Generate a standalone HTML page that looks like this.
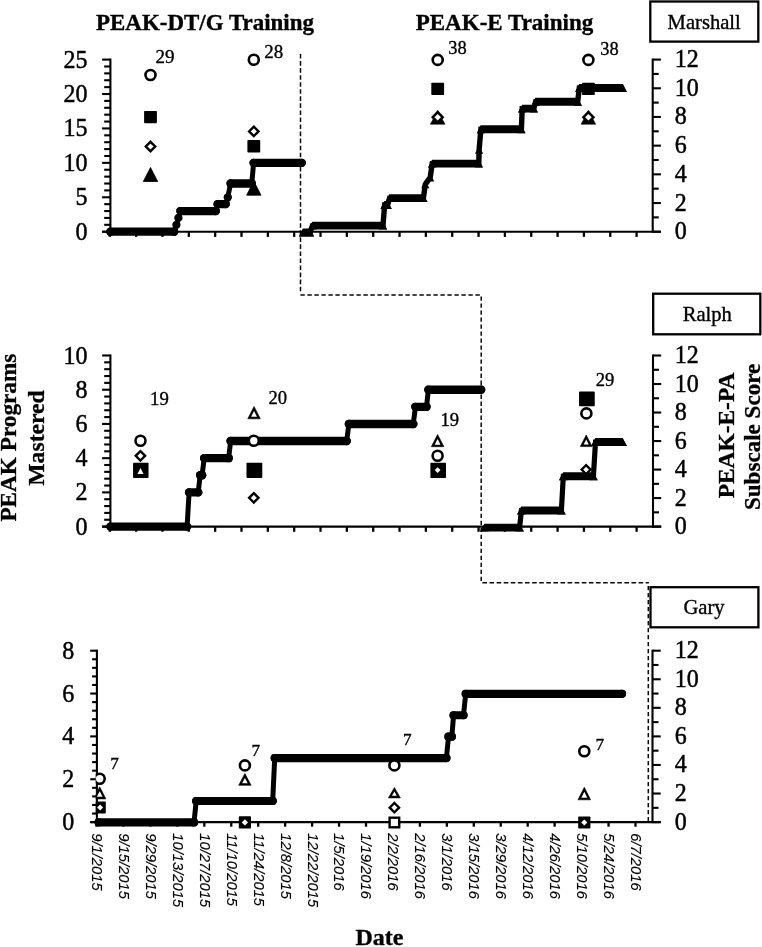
<!DOCTYPE html>
<html lang="en">
<head>
<meta charset="utf-8">
<title>PEAK training figure</title>
<style>html,body{margin:0;padding:0;background:#fff}svg{display:block}</style>
</head>
<body>
<svg width="762" height="947" viewBox="0 0 762 947">
<rect width="762" height="947" fill="#fff"/>
<text x="96.00" y="30.00" font-family='"Liberation Serif", "Times New Roman", serif' font-size="23.2" font-weight="bold" text-anchor="start" fill="#000" stroke="#000" stroke-width="0.35" textLength="218" lengthAdjust="spacingAndGlyphs">PEAK-DT/G Training</text>
<text x="415.70" y="29.80" font-family='"Liberation Serif", "Times New Roman", serif' font-size="23.2" font-weight="bold" text-anchor="start" fill="#000" stroke="#000" stroke-width="0.35" textLength="177.6" lengthAdjust="spacingAndGlyphs">PEAK-E Training</text>
<text x="379.40" y="944.90" font-family='"Liberation Serif", "Times New Roman", serif' font-size="24" font-weight="bold" text-anchor="middle" fill="#000" stroke="#000" stroke-width="0.35" >Date</text>
<text transform="translate(15.80,437.60) rotate(-90)" font-family='"Liberation Serif", "Times New Roman", serif' font-size="23.2" font-weight="bold" text-anchor="middle" fill="#000" stroke="#000" stroke-width="0.3" textLength="168" lengthAdjust="spacingAndGlyphs">PEAK Programs</text>
<text transform="translate(43.70,438.00) rotate(-90)" font-family='"Liberation Serif", "Times New Roman", serif' font-size="23.2" font-weight="bold" text-anchor="middle" fill="#000" stroke="#000" stroke-width="0.3" textLength="95.4" lengthAdjust="spacingAndGlyphs">Mastered</text>
<text transform="translate(733.70,435.50) rotate(-90)" font-family='"Liberation Serif", "Times New Roman", serif' font-size="23.2" font-weight="bold" text-anchor="middle" fill="#000" stroke="#000" stroke-width="0.3" textLength="125.7" lengthAdjust="spacingAndGlyphs">PEAK-E-PA</text>
<text transform="translate(760.10,436.90) rotate(-90)" font-family='"Liberation Serif", "Times New Roman", serif' font-size="23.2" font-weight="bold" text-anchor="middle" fill="#000" stroke="#000" stroke-width="0.3" textLength="146.3" lengthAdjust="spacingAndGlyphs">Subscale Score</text>
<line x1="300.5" y1="54.0" x2="300.5" y2="292.0" stroke="#0a0a0a" stroke-width="1.5" stroke-dasharray="4.6 2.45"/>
<line x1="479.8" y1="294.9" x2="299.7" y2="294.9" stroke="#0a0a0a" stroke-width="1.5" stroke-dasharray="4.4 2.6"/>
<line x1="481.2" y1="296.4" x2="481.2" y2="581.2" stroke="#0a0a0a" stroke-width="1.5" stroke-dasharray="4.4 2.6075"/>
<line x1="482.4" y1="582.7" x2="648.9" y2="582.7" stroke="#0a0a0a" stroke-width="1.5" stroke-dasharray="4.6 2.5"/>
<polyline points="110.40,231.70 174.10,231.70 176.40,224.82 178.40,217.93 180.40,211.05 215.80,211.05 217.60,204.16 225.70,204.16 227.80,197.28 230.60,183.51 251.80,183.51 253.60,162.86 301.80,162.86" fill="none" stroke="#000" stroke-width="5.0" stroke-linejoin="round" stroke-linecap="round"/>
<line x1="110.40" y1="231.70" x2="174.10" y2="231.70" stroke="#000" stroke-width="8.3" stroke-linecap="round"/>
<line x1="180.40" y1="211.05" x2="215.80" y2="211.05" stroke="#000" stroke-width="8.3" stroke-linecap="round"/>
<line x1="217.60" y1="204.16" x2="225.70" y2="204.16" stroke="#000" stroke-width="8.3" stroke-linecap="round"/>
<line x1="230.60" y1="183.51" x2="251.80" y2="183.51" stroke="#000" stroke-width="8.3" stroke-linecap="round"/>
<line x1="253.60" y1="162.86" x2="301.80" y2="162.86" stroke="#000" stroke-width="8.3" stroke-linecap="round"/>
<circle cx="110.40" cy="231.70" r="4.15" fill="#000"/>
<circle cx="174.10" cy="231.70" r="4.15" fill="#000"/>
<circle cx="176.40" cy="224.82" r="4.15" fill="#000"/>
<circle cx="178.40" cy="217.93" r="4.15" fill="#000"/>
<circle cx="180.40" cy="211.05" r="4.15" fill="#000"/>
<circle cx="215.80" cy="211.05" r="4.15" fill="#000"/>
<circle cx="217.60" cy="204.16" r="4.15" fill="#000"/>
<circle cx="225.70" cy="204.16" r="4.15" fill="#000"/>
<circle cx="227.80" cy="197.28" r="4.15" fill="#000"/>
<circle cx="230.60" cy="183.51" r="4.15" fill="#000"/>
<circle cx="251.80" cy="183.51" r="4.15" fill="#000"/>
<circle cx="253.60" cy="162.86" r="4.15" fill="#000"/>
<circle cx="301.80" cy="162.86" r="4.15" fill="#000"/>
<polyline points="303.00,232.50 310.00,232.50 312.50,225.62 383.00,225.62 384.60,204.96 387.60,204.96 389.60,198.08 423.40,198.08 425.30,184.31 430.20,177.43 432.20,163.66 478.80,163.66 479.10,149.89 480.90,129.24 521.40,129.24 522.20,108.59 533.80,108.59 535.60,101.70 577.70,101.70 579.30,87.94 622.80,87.94" fill="none" stroke="#000" stroke-width="5.4" stroke-linejoin="miter"/>
<polygon points="303.00,228.55 310.00,228.55 314.10,236.45 298.90,236.45" fill="#000"/>
<polygon points="312.50,221.67 383.00,221.67 387.10,229.57 308.40,229.57" fill="#000"/>
<polygon points="384.60,201.01 387.60,201.01 391.70,208.91 380.50,208.91" fill="#000"/>
<polygon points="389.60,194.13 423.40,194.13 427.50,202.03 385.50,202.03" fill="#000"/>
<polygon points="432.20,159.71 478.80,159.71 482.90,167.61 428.10,167.61" fill="#000"/>
<polygon points="480.90,125.29 521.40,125.29 525.50,133.19 476.80,133.19" fill="#000"/>
<polygon points="522.20,104.64 533.80,104.64 537.90,112.54 518.10,112.54" fill="#000"/>
<polygon points="535.60,97.75 577.70,97.75 581.80,105.65 531.50,105.65" fill="#000"/>
<polygon points="579.30,83.99 622.80,83.99 626.90,91.89 575.20,91.89" fill="#000"/>
<polygon points="303.00,228.55 307.10,236.45 298.90,236.45" fill="#000"/>
<polygon points="310.00,228.55 314.10,236.45 305.90,236.45" fill="#000"/>
<polygon points="312.50,221.67 316.60,229.57 308.40,229.57" fill="#000"/>
<polygon points="383.00,221.67 387.10,229.57 378.90,229.57" fill="#000"/>
<polygon points="384.60,201.01 388.70,208.91 380.50,208.91" fill="#000"/>
<polygon points="387.60,201.01 391.70,208.91 383.50,208.91" fill="#000"/>
<polygon points="389.60,194.13 393.70,202.03 385.50,202.03" fill="#000"/>
<polygon points="423.40,194.13 427.50,202.03 419.30,202.03" fill="#000"/>
<polygon points="425.30,180.36 429.40,188.26 421.20,188.26" fill="#000"/>
<polygon points="430.20,173.48 434.30,181.38 426.10,181.38" fill="#000"/>
<polygon points="432.20,159.71 436.30,167.61 428.10,167.61" fill="#000"/>
<polygon points="478.80,159.71 482.90,167.61 474.70,167.61" fill="#000"/>
<polygon points="479.10,145.94 483.20,153.84 475.00,153.84" fill="#000"/>
<polygon points="480.90,125.29 485.00,133.19 476.80,133.19" fill="#000"/>
<polygon points="521.40,125.29 525.50,133.19 517.30,133.19" fill="#000"/>
<polygon points="522.20,104.64 526.30,112.54 518.10,112.54" fill="#000"/>
<polygon points="533.80,104.64 537.90,112.54 529.70,112.54" fill="#000"/>
<polygon points="535.60,97.75 539.70,105.65 531.50,105.65" fill="#000"/>
<polygon points="577.70,97.75 581.80,105.65 573.60,105.65" fill="#000"/>
<polygon points="579.30,83.99 583.40,91.89 575.20,91.89" fill="#000"/>
<polygon points="622.80,83.99 626.90,91.89 618.70,91.89" fill="#000"/>
<line x1="110.40" y1="58.55" x2="110.40" y2="232.75" stroke="#000" stroke-width="2.1" />
<line x1="652.70" y1="58.55" x2="652.70" y2="232.75" stroke="#000" stroke-width="2.1" />
<line x1="102.10" y1="231.70" x2="660.90" y2="231.70" stroke="#000" stroke-width="2.1" />
<line x1="102.10" y1="231.70" x2="110.40" y2="231.70" stroke="#000" stroke-width="2.1" />
<text transform="translate(87.40,239.70) scale(1,1.06)" font-family='"Liberation Serif", "Times New Roman", serif' font-size="24" text-anchor="end" fill="#000" stroke="#000" stroke-width="0.45">0</text>
<line x1="104.20" y1="224.82" x2="110.40" y2="224.82" stroke="#000" stroke-width="2.1" />
<line x1="104.20" y1="217.93" x2="110.40" y2="217.93" stroke="#000" stroke-width="2.1" />
<line x1="104.20" y1="211.05" x2="110.40" y2="211.05" stroke="#000" stroke-width="2.1" />
<line x1="104.20" y1="204.16" x2="110.40" y2="204.16" stroke="#000" stroke-width="2.1" />
<line x1="102.10" y1="197.28" x2="110.40" y2="197.28" stroke="#000" stroke-width="2.1" />
<text transform="translate(87.40,205.28) scale(1,1.06)" font-family='"Liberation Serif", "Times New Roman", serif' font-size="24" text-anchor="end" fill="#000" stroke="#000" stroke-width="0.45">5</text>
<line x1="104.20" y1="190.40" x2="110.40" y2="190.40" stroke="#000" stroke-width="2.1" />
<line x1="104.20" y1="183.51" x2="110.40" y2="183.51" stroke="#000" stroke-width="2.1" />
<line x1="104.20" y1="176.63" x2="110.40" y2="176.63" stroke="#000" stroke-width="2.1" />
<line x1="104.20" y1="169.74" x2="110.40" y2="169.74" stroke="#000" stroke-width="2.1" />
<line x1="102.10" y1="162.86" x2="110.40" y2="162.86" stroke="#000" stroke-width="2.1" />
<text transform="translate(87.40,170.86) scale(1,1.06)" font-family='"Liberation Serif", "Times New Roman", serif' font-size="24" text-anchor="end" fill="#000" stroke="#000" stroke-width="0.45">10</text>
<line x1="104.20" y1="155.98" x2="110.40" y2="155.98" stroke="#000" stroke-width="2.1" />
<line x1="104.20" y1="149.09" x2="110.40" y2="149.09" stroke="#000" stroke-width="2.1" />
<line x1="104.20" y1="142.21" x2="110.40" y2="142.21" stroke="#000" stroke-width="2.1" />
<line x1="104.20" y1="135.32" x2="110.40" y2="135.32" stroke="#000" stroke-width="2.1" />
<line x1="102.10" y1="128.44" x2="110.40" y2="128.44" stroke="#000" stroke-width="2.1" />
<text transform="translate(87.40,136.44) scale(1,1.06)" font-family='"Liberation Serif", "Times New Roman", serif' font-size="24" text-anchor="end" fill="#000" stroke="#000" stroke-width="0.45">15</text>
<line x1="104.20" y1="121.56" x2="110.40" y2="121.56" stroke="#000" stroke-width="2.1" />
<line x1="104.20" y1="114.67" x2="110.40" y2="114.67" stroke="#000" stroke-width="2.1" />
<line x1="104.20" y1="107.79" x2="110.40" y2="107.79" stroke="#000" stroke-width="2.1" />
<line x1="104.20" y1="100.90" x2="110.40" y2="100.90" stroke="#000" stroke-width="2.1" />
<line x1="102.10" y1="94.02" x2="110.40" y2="94.02" stroke="#000" stroke-width="2.1" />
<text transform="translate(87.40,102.02) scale(1,1.06)" font-family='"Liberation Serif", "Times New Roman", serif' font-size="24" text-anchor="end" fill="#000" stroke="#000" stroke-width="0.45">20</text>
<line x1="104.20" y1="87.14" x2="110.40" y2="87.14" stroke="#000" stroke-width="2.1" />
<line x1="104.20" y1="80.25" x2="110.40" y2="80.25" stroke="#000" stroke-width="2.1" />
<line x1="104.20" y1="73.37" x2="110.40" y2="73.37" stroke="#000" stroke-width="2.1" />
<line x1="104.20" y1="66.48" x2="110.40" y2="66.48" stroke="#000" stroke-width="2.1" />
<line x1="102.10" y1="59.60" x2="110.40" y2="59.60" stroke="#000" stroke-width="2.1" />
<text transform="translate(87.40,67.60) scale(1,1.06)" font-family='"Liberation Serif", "Times New Roman", serif' font-size="24" text-anchor="end" fill="#000" stroke="#000" stroke-width="0.45">25</text>
<line x1="652.70" y1="231.70" x2="660.90" y2="231.70" stroke="#000" stroke-width="2.1" />
<text transform="translate(674.70,239.20) scale(1,1.06)" font-family='"Liberation Serif", "Times New Roman", serif' font-size="24" text-anchor="start" fill="#000" stroke="#000" stroke-width="0.45">0</text>
<line x1="652.70" y1="217.36" x2="658.70" y2="217.36" stroke="#000" stroke-width="2.1" />
<line x1="652.70" y1="203.02" x2="660.90" y2="203.02" stroke="#000" stroke-width="2.1" />
<text transform="translate(674.70,210.52) scale(1,1.06)" font-family='"Liberation Serif", "Times New Roman", serif' font-size="24" text-anchor="start" fill="#000" stroke="#000" stroke-width="0.45">2</text>
<line x1="652.70" y1="188.67" x2="658.70" y2="188.67" stroke="#000" stroke-width="2.1" />
<line x1="652.70" y1="174.33" x2="660.90" y2="174.33" stroke="#000" stroke-width="2.1" />
<text transform="translate(674.70,181.83) scale(1,1.06)" font-family='"Liberation Serif", "Times New Roman", serif' font-size="24" text-anchor="start" fill="#000" stroke="#000" stroke-width="0.45">4</text>
<line x1="652.70" y1="159.99" x2="658.70" y2="159.99" stroke="#000" stroke-width="2.1" />
<line x1="652.70" y1="145.65" x2="660.90" y2="145.65" stroke="#000" stroke-width="2.1" />
<text transform="translate(674.70,153.15) scale(1,1.06)" font-family='"Liberation Serif", "Times New Roman", serif' font-size="24" text-anchor="start" fill="#000" stroke="#000" stroke-width="0.45">6</text>
<line x1="652.70" y1="131.31" x2="658.70" y2="131.31" stroke="#000" stroke-width="2.1" />
<line x1="652.70" y1="116.97" x2="660.90" y2="116.97" stroke="#000" stroke-width="2.1" />
<text transform="translate(674.70,124.47) scale(1,1.06)" font-family='"Liberation Serif", "Times New Roman", serif' font-size="24" text-anchor="start" fill="#000" stroke="#000" stroke-width="0.45">8</text>
<line x1="652.70" y1="102.62" x2="658.70" y2="102.62" stroke="#000" stroke-width="2.1" />
<line x1="652.70" y1="88.28" x2="660.90" y2="88.28" stroke="#000" stroke-width="2.1" />
<text transform="translate(674.70,95.78) scale(1,1.06)" font-family='"Liberation Serif", "Times New Roman", serif' font-size="24" text-anchor="start" fill="#000" stroke="#000" stroke-width="0.45">10</text>
<line x1="652.70" y1="73.94" x2="658.70" y2="73.94" stroke="#000" stroke-width="2.1" />
<line x1="652.70" y1="59.60" x2="660.90" y2="59.60" stroke="#000" stroke-width="2.1" />
<text transform="translate(674.70,67.10) scale(1,1.06)" font-family='"Liberation Serif", "Times New Roman", serif' font-size="24" text-anchor="start" fill="#000" stroke="#000" stroke-width="0.45">12</text>
<line x1="109.80" y1="231.70" x2="109.80" y2="236.90" stroke="#000" stroke-width="2.3000000000000003" />
<line x1="136.14" y1="231.70" x2="136.14" y2="236.90" stroke="#000" stroke-width="2.3000000000000003" />
<line x1="162.48" y1="231.70" x2="162.48" y2="236.90" stroke="#000" stroke-width="2.3000000000000003" />
<line x1="188.82" y1="231.70" x2="188.82" y2="236.90" stroke="#000" stroke-width="2.3000000000000003" />
<line x1="215.16" y1="231.70" x2="215.16" y2="236.90" stroke="#000" stroke-width="2.3000000000000003" />
<line x1="241.50" y1="231.70" x2="241.50" y2="236.90" stroke="#000" stroke-width="2.3000000000000003" />
<line x1="267.84" y1="231.70" x2="267.84" y2="236.90" stroke="#000" stroke-width="2.3000000000000003" />
<line x1="294.18" y1="231.70" x2="294.18" y2="236.90" stroke="#000" stroke-width="2.3000000000000003" />
<line x1="320.52" y1="231.70" x2="320.52" y2="236.90" stroke="#000" stroke-width="2.3000000000000003" />
<line x1="346.86" y1="231.70" x2="346.86" y2="236.90" stroke="#000" stroke-width="2.3000000000000003" />
<line x1="373.20" y1="231.70" x2="373.20" y2="236.90" stroke="#000" stroke-width="2.3000000000000003" />
<line x1="399.54" y1="231.70" x2="399.54" y2="236.90" stroke="#000" stroke-width="2.3000000000000003" />
<line x1="425.88" y1="231.70" x2="425.88" y2="236.90" stroke="#000" stroke-width="2.3000000000000003" />
<line x1="452.22" y1="231.70" x2="452.22" y2="236.90" stroke="#000" stroke-width="2.3000000000000003" />
<line x1="478.56" y1="231.70" x2="478.56" y2="236.90" stroke="#000" stroke-width="2.3000000000000003" />
<line x1="504.90" y1="231.70" x2="504.90" y2="236.90" stroke="#000" stroke-width="2.3000000000000003" />
<line x1="531.24" y1="231.70" x2="531.24" y2="236.90" stroke="#000" stroke-width="2.3000000000000003" />
<line x1="557.58" y1="231.70" x2="557.58" y2="236.90" stroke="#000" stroke-width="2.3000000000000003" />
<line x1="583.92" y1="231.70" x2="583.92" y2="236.90" stroke="#000" stroke-width="2.3000000000000003" />
<line x1="610.26" y1="231.70" x2="610.26" y2="236.90" stroke="#000" stroke-width="2.3000000000000003" />
<line x1="636.60" y1="231.70" x2="636.60" y2="236.90" stroke="#000" stroke-width="2.3000000000000003" />
<circle cx="150.50" cy="75.00" r="5.0" fill="#fff" stroke="#000" stroke-width="2.6"/>
<rect x="144.10" y="110.90" width="12.8" height="12.4" rx="0.8" fill="#000"/>
<polygon points="150.50,141.80 155.20,146.50 150.50,151.20 145.80,146.50" fill="#fff" stroke="#000" stroke-width="2.4" stroke-linejoin="miter"/>
<polygon points="150.50,167.50 157.70,181.50 143.30,181.50" fill="#000" stroke="#000" stroke-width="0.8" stroke-linejoin="round"/>
<text x="155.50" y="63.20" font-family='"Liberation Serif", "Times New Roman", serif' font-size="19" font-weight="normal" text-anchor="start" fill="#000" stroke="#000" stroke-width="0.35" >29</text>
<circle cx="253.80" cy="59.80" r="5.0" fill="#fff" stroke="#000" stroke-width="2.6"/>
<polygon points="253.80,126.70 258.50,131.40 253.80,136.10 249.10,131.40" fill="#fff" stroke="#000" stroke-width="2.4" stroke-linejoin="miter"/>
<rect x="247.40" y="140.10" width="12.8" height="12.4" rx="0.8" fill="#000"/>
<polygon points="253.80,181.20 261.00,195.20 246.60,195.20" fill="#000" stroke="#000" stroke-width="0.8" stroke-linejoin="round"/>
<text x="264.20" y="57.80" font-family='"Liberation Serif", "Times New Roman", serif' font-size="19" font-weight="normal" text-anchor="start" fill="#000" stroke="#000" stroke-width="0.35" >28</text>
<circle cx="437.70" cy="59.90" r="5.0" fill="#fff" stroke="#000" stroke-width="2.6"/>
<rect x="431.30" y="82.70" width="12.8" height="12.4" rx="0.8" fill="#000"/>
<polygon points="437.70,110.6 444.95,124.2 430.45,124.2" fill="#000" stroke="#000" stroke-width="0.6" stroke-linejoin="round"/>
<polygon points="437.70,110.3 444.40,117.3 437.70,124.0 431.00,117.3" fill="#000"/>
<polygon points="437.70,114.00 441.00,117.30 437.70,120.60 434.40,117.30" fill="#fff"/>
<text x="448.30" y="53.60" font-family='"Liberation Serif", "Times New Roman", serif' font-size="18.4" font-weight="normal" text-anchor="start" fill="#000" stroke="#000" stroke-width="0.35" >38</text>
<circle cx="588.40" cy="59.90" r="5.0" fill="#fff" stroke="#000" stroke-width="2.6"/>
<rect x="582.00" y="82.70" width="12.8" height="12.4" rx="0.8" fill="#000"/>
<polygon points="588.40,110.6 595.65,124.2 581.15,124.2" fill="#000" stroke="#000" stroke-width="0.6" stroke-linejoin="round"/>
<polygon points="588.40,110.3 595.10,117.3 588.40,124.0 581.70,117.3" fill="#000"/>
<polygon points="588.40,114.00 591.70,117.30 588.40,120.60 585.10,117.30" fill="#fff"/>
<text x="600.20" y="54.80" font-family='"Liberation Serif", "Times New Roman", serif' font-size="18.4" font-weight="normal" text-anchor="start" fill="#000" stroke="#000" stroke-width="0.35" >38</text>
<rect x="650.3" y="1.5" width="108.00" height="40.10" fill="#fff" stroke="#000" stroke-width="2.3"/>
<text x="704.20" y="28.80" font-family='"Liberation Serif", "Times New Roman", serif' font-size="20.6" font-weight="normal" text-anchor="middle" fill="#000" stroke="#000" stroke-width="0.35" >Marshall</text>
<polyline points="110.40,526.60 187.10,526.60 189.10,492.38 198.20,492.38 200.20,475.27 202.10,475.27 204.20,458.16 228.70,458.16 230.60,441.05 346.70,441.05 348.90,423.94 413.30,423.94 415.40,406.83 426.50,406.83 428.40,389.72 481.10,389.72" fill="none" stroke="#000" stroke-width="5.0" stroke-linejoin="round" stroke-linecap="round"/>
<line x1="110.40" y1="526.60" x2="187.10" y2="526.60" stroke="#000" stroke-width="8.4" stroke-linecap="round"/>
<line x1="189.10" y1="492.38" x2="198.20" y2="492.38" stroke="#000" stroke-width="8.4" stroke-linecap="round"/>
<line x1="200.20" y1="475.27" x2="202.10" y2="475.27" stroke="#000" stroke-width="8.4" stroke-linecap="round"/>
<line x1="204.20" y1="458.16" x2="228.70" y2="458.16" stroke="#000" stroke-width="8.4" stroke-linecap="round"/>
<line x1="230.60" y1="441.05" x2="346.70" y2="441.05" stroke="#000" stroke-width="8.4" stroke-linecap="round"/>
<line x1="348.90" y1="423.94" x2="413.30" y2="423.94" stroke="#000" stroke-width="8.4" stroke-linecap="round"/>
<line x1="415.40" y1="406.83" x2="426.50" y2="406.83" stroke="#000" stroke-width="8.4" stroke-linecap="round"/>
<line x1="428.40" y1="389.72" x2="481.10" y2="389.72" stroke="#000" stroke-width="8.4" stroke-linecap="round"/>
<circle cx="110.40" cy="526.60" r="4.2" fill="#000"/>
<circle cx="187.10" cy="526.60" r="4.2" fill="#000"/>
<circle cx="189.10" cy="492.38" r="4.2" fill="#000"/>
<circle cx="198.20" cy="492.38" r="4.2" fill="#000"/>
<circle cx="200.20" cy="475.27" r="4.2" fill="#000"/>
<circle cx="202.10" cy="475.27" r="4.2" fill="#000"/>
<circle cx="204.20" cy="458.16" r="4.2" fill="#000"/>
<circle cx="228.70" cy="458.16" r="4.2" fill="#000"/>
<circle cx="230.60" cy="441.05" r="4.2" fill="#000"/>
<circle cx="346.70" cy="441.05" r="4.2" fill="#000"/>
<circle cx="348.90" cy="423.94" r="4.2" fill="#000"/>
<circle cx="413.30" cy="423.94" r="4.2" fill="#000"/>
<circle cx="415.40" cy="406.83" r="4.2" fill="#000"/>
<circle cx="426.50" cy="406.83" r="4.2" fill="#000"/>
<circle cx="428.40" cy="389.72" r="4.2" fill="#000"/>
<circle cx="481.10" cy="389.72" r="4.2" fill="#000"/>
<polyline points="484.50,527.60 519.60,527.60 521.40,510.49 561.40,510.49 563.30,476.27 593.40,476.27 595.50,442.05 622.60,442.05" fill="none" stroke="#000" stroke-width="5.2" stroke-linejoin="miter"/>
<polygon points="484.50,523.65 519.60,523.65 523.90,531.55 480.20,531.55" fill="#000"/>
<polygon points="521.40,506.54 561.40,506.54 565.70,514.44 517.10,514.44" fill="#000"/>
<polygon points="563.30,472.32 593.40,472.32 597.70,480.22 559.00,480.22" fill="#000"/>
<polygon points="595.50,438.10 622.60,438.10 626.90,446.00 591.20,446.00" fill="#000"/>
<polygon points="484.50,523.65 488.80,531.55 480.20,531.55" fill="#000"/>
<polygon points="519.60,523.65 523.90,531.55 515.30,531.55" fill="#000"/>
<polygon points="521.40,506.54 525.70,514.44 517.10,514.44" fill="#000"/>
<polygon points="561.40,506.54 565.70,514.44 557.10,514.44" fill="#000"/>
<polygon points="563.30,472.32 567.60,480.22 559.00,480.22" fill="#000"/>
<polygon points="593.40,472.32 597.70,480.22 589.10,480.22" fill="#000"/>
<polygon points="595.50,438.10 599.80,446.00 591.20,446.00" fill="#000"/>
<polygon points="622.60,438.10 626.90,446.00 618.30,446.00" fill="#000"/>
<line x1="110.40" y1="354.45" x2="110.40" y2="527.65" stroke="#000" stroke-width="2.1" />
<line x1="653.00" y1="354.45" x2="653.00" y2="527.65" stroke="#000" stroke-width="2.1" />
<line x1="102.10" y1="526.60" x2="661.20" y2="526.60" stroke="#000" stroke-width="2.1" />
<line x1="102.10" y1="526.60" x2="110.40" y2="526.60" stroke="#000" stroke-width="2.1" />
<text transform="translate(87.60,534.60) scale(1,1.06)" font-family='"Liberation Serif", "Times New Roman", serif' font-size="24" text-anchor="end" fill="#000" stroke="#000" stroke-width="0.45">0</text>
<line x1="104.20" y1="519.76" x2="110.40" y2="519.76" stroke="#000" stroke-width="2.1" />
<line x1="104.20" y1="512.91" x2="110.40" y2="512.91" stroke="#000" stroke-width="2.1" />
<line x1="104.20" y1="506.07" x2="110.40" y2="506.07" stroke="#000" stroke-width="2.1" />
<line x1="104.20" y1="499.22" x2="110.40" y2="499.22" stroke="#000" stroke-width="2.1" />
<line x1="102.10" y1="492.38" x2="110.40" y2="492.38" stroke="#000" stroke-width="2.1" />
<text transform="translate(87.60,500.38) scale(1,1.06)" font-family='"Liberation Serif", "Times New Roman", serif' font-size="24" text-anchor="end" fill="#000" stroke="#000" stroke-width="0.45">2</text>
<line x1="104.20" y1="485.54" x2="110.40" y2="485.54" stroke="#000" stroke-width="2.1" />
<line x1="104.20" y1="478.69" x2="110.40" y2="478.69" stroke="#000" stroke-width="2.1" />
<line x1="104.20" y1="471.85" x2="110.40" y2="471.85" stroke="#000" stroke-width="2.1" />
<line x1="104.20" y1="465.00" x2="110.40" y2="465.00" stroke="#000" stroke-width="2.1" />
<line x1="102.10" y1="458.16" x2="110.40" y2="458.16" stroke="#000" stroke-width="2.1" />
<text transform="translate(87.60,466.16) scale(1,1.06)" font-family='"Liberation Serif", "Times New Roman", serif' font-size="24" text-anchor="end" fill="#000" stroke="#000" stroke-width="0.45">4</text>
<line x1="104.20" y1="451.32" x2="110.40" y2="451.32" stroke="#000" stroke-width="2.1" />
<line x1="104.20" y1="444.47" x2="110.40" y2="444.47" stroke="#000" stroke-width="2.1" />
<line x1="104.20" y1="437.63" x2="110.40" y2="437.63" stroke="#000" stroke-width="2.1" />
<line x1="104.20" y1="430.78" x2="110.40" y2="430.78" stroke="#000" stroke-width="2.1" />
<line x1="102.10" y1="423.94" x2="110.40" y2="423.94" stroke="#000" stroke-width="2.1" />
<text transform="translate(87.60,431.94) scale(1,1.06)" font-family='"Liberation Serif", "Times New Roman", serif' font-size="24" text-anchor="end" fill="#000" stroke="#000" stroke-width="0.45">6</text>
<line x1="104.20" y1="417.10" x2="110.40" y2="417.10" stroke="#000" stroke-width="2.1" />
<line x1="104.20" y1="410.25" x2="110.40" y2="410.25" stroke="#000" stroke-width="2.1" />
<line x1="104.20" y1="403.41" x2="110.40" y2="403.41" stroke="#000" stroke-width="2.1" />
<line x1="104.20" y1="396.56" x2="110.40" y2="396.56" stroke="#000" stroke-width="2.1" />
<line x1="102.10" y1="389.72" x2="110.40" y2="389.72" stroke="#000" stroke-width="2.1" />
<text transform="translate(87.60,397.72) scale(1,1.06)" font-family='"Liberation Serif", "Times New Roman", serif' font-size="24" text-anchor="end" fill="#000" stroke="#000" stroke-width="0.45">8</text>
<line x1="104.20" y1="382.88" x2="110.40" y2="382.88" stroke="#000" stroke-width="2.1" />
<line x1="104.20" y1="376.03" x2="110.40" y2="376.03" stroke="#000" stroke-width="2.1" />
<line x1="104.20" y1="369.19" x2="110.40" y2="369.19" stroke="#000" stroke-width="2.1" />
<line x1="104.20" y1="362.34" x2="110.40" y2="362.34" stroke="#000" stroke-width="2.1" />
<line x1="102.10" y1="355.50" x2="110.40" y2="355.50" stroke="#000" stroke-width="2.1" />
<text transform="translate(87.60,363.50) scale(1,1.06)" font-family='"Liberation Serif", "Times New Roman", serif' font-size="24" text-anchor="end" fill="#000" stroke="#000" stroke-width="0.45">10</text>
<line x1="653.00" y1="526.60" x2="661.20" y2="526.60" stroke="#000" stroke-width="2.1" />
<text transform="translate(674.70,534.10) scale(1,1.06)" font-family='"Liberation Serif", "Times New Roman", serif' font-size="24" text-anchor="start" fill="#000" stroke="#000" stroke-width="0.45">0</text>
<line x1="653.00" y1="512.34" x2="659.00" y2="512.34" stroke="#000" stroke-width="2.1" />
<line x1="653.00" y1="498.08" x2="661.20" y2="498.08" stroke="#000" stroke-width="2.1" />
<text transform="translate(674.70,505.58) scale(1,1.06)" font-family='"Liberation Serif", "Times New Roman", serif' font-size="24" text-anchor="start" fill="#000" stroke="#000" stroke-width="0.45">2</text>
<line x1="653.00" y1="483.83" x2="659.00" y2="483.83" stroke="#000" stroke-width="2.1" />
<line x1="653.00" y1="469.57" x2="661.20" y2="469.57" stroke="#000" stroke-width="2.1" />
<text transform="translate(674.70,477.07) scale(1,1.06)" font-family='"Liberation Serif", "Times New Roman", serif' font-size="24" text-anchor="start" fill="#000" stroke="#000" stroke-width="0.45">4</text>
<line x1="653.00" y1="455.31" x2="659.00" y2="455.31" stroke="#000" stroke-width="2.1" />
<line x1="653.00" y1="441.05" x2="661.20" y2="441.05" stroke="#000" stroke-width="2.1" />
<text transform="translate(674.70,448.55) scale(1,1.06)" font-family='"Liberation Serif", "Times New Roman", serif' font-size="24" text-anchor="start" fill="#000" stroke="#000" stroke-width="0.45">6</text>
<line x1="653.00" y1="426.79" x2="659.00" y2="426.79" stroke="#000" stroke-width="2.1" />
<line x1="653.00" y1="412.53" x2="661.20" y2="412.53" stroke="#000" stroke-width="2.1" />
<text transform="translate(674.70,420.03) scale(1,1.06)" font-family='"Liberation Serif", "Times New Roman", serif' font-size="24" text-anchor="start" fill="#000" stroke="#000" stroke-width="0.45">8</text>
<line x1="653.00" y1="398.27" x2="659.00" y2="398.27" stroke="#000" stroke-width="2.1" />
<line x1="653.00" y1="384.02" x2="661.20" y2="384.02" stroke="#000" stroke-width="2.1" />
<text transform="translate(674.70,391.52) scale(1,1.06)" font-family='"Liberation Serif", "Times New Roman", serif' font-size="24" text-anchor="start" fill="#000" stroke="#000" stroke-width="0.45">10</text>
<line x1="653.00" y1="369.76" x2="659.00" y2="369.76" stroke="#000" stroke-width="2.1" />
<line x1="653.00" y1="355.50" x2="661.20" y2="355.50" stroke="#000" stroke-width="2.1" />
<text transform="translate(674.70,363.00) scale(1,1.06)" font-family='"Liberation Serif", "Times New Roman", serif' font-size="24" text-anchor="start" fill="#000" stroke="#000" stroke-width="0.45">12</text>
<line x1="109.80" y1="526.60" x2="109.80" y2="531.80" stroke="#000" stroke-width="2.3000000000000003" />
<line x1="136.14" y1="526.60" x2="136.14" y2="531.80" stroke="#000" stroke-width="2.3000000000000003" />
<line x1="162.48" y1="526.60" x2="162.48" y2="531.80" stroke="#000" stroke-width="2.3000000000000003" />
<line x1="188.82" y1="526.60" x2="188.82" y2="531.80" stroke="#000" stroke-width="2.3000000000000003" />
<line x1="215.16" y1="526.60" x2="215.16" y2="531.80" stroke="#000" stroke-width="2.3000000000000003" />
<line x1="241.50" y1="526.60" x2="241.50" y2="531.80" stroke="#000" stroke-width="2.3000000000000003" />
<line x1="267.84" y1="526.60" x2="267.84" y2="531.80" stroke="#000" stroke-width="2.3000000000000003" />
<line x1="294.18" y1="526.60" x2="294.18" y2="531.80" stroke="#000" stroke-width="2.3000000000000003" />
<line x1="320.52" y1="526.60" x2="320.52" y2="531.80" stroke="#000" stroke-width="2.3000000000000003" />
<line x1="346.86" y1="526.60" x2="346.86" y2="531.80" stroke="#000" stroke-width="2.3000000000000003" />
<line x1="373.20" y1="526.60" x2="373.20" y2="531.80" stroke="#000" stroke-width="2.3000000000000003" />
<line x1="399.54" y1="526.60" x2="399.54" y2="531.80" stroke="#000" stroke-width="2.3000000000000003" />
<line x1="425.88" y1="526.60" x2="425.88" y2="531.80" stroke="#000" stroke-width="2.3000000000000003" />
<line x1="452.22" y1="526.60" x2="452.22" y2="531.80" stroke="#000" stroke-width="2.3000000000000003" />
<line x1="478.56" y1="526.60" x2="478.56" y2="531.80" stroke="#000" stroke-width="2.3000000000000003" />
<line x1="504.90" y1="526.60" x2="504.90" y2="531.80" stroke="#000" stroke-width="2.3000000000000003" />
<line x1="531.24" y1="526.60" x2="531.24" y2="531.80" stroke="#000" stroke-width="2.3000000000000003" />
<line x1="557.58" y1="526.60" x2="557.58" y2="531.80" stroke="#000" stroke-width="2.3000000000000003" />
<line x1="583.92" y1="526.60" x2="583.92" y2="531.80" stroke="#000" stroke-width="2.3000000000000003" />
<line x1="610.26" y1="526.60" x2="610.26" y2="531.80" stroke="#000" stroke-width="2.3000000000000003" />
<line x1="636.60" y1="526.60" x2="636.60" y2="531.80" stroke="#000" stroke-width="2.3000000000000003" />
<circle cx="140.50" cy="440.70" r="5.0" fill="#fff" stroke="#000" stroke-width="2.6"/>
<polygon points="140.40,451.10 145.10,455.80 140.40,460.50 135.70,455.80" fill="#fff" stroke="#000" stroke-width="2.4" stroke-linejoin="miter"/>
<rect x="133.05" y="462.75" width="15.5" height="15.3" rx="0.8" fill="#000"/>
<polygon points="140.50,468.00 143.55,473.90 137.45,473.90" fill="#fff"/>
<text x="150.10" y="404.80" font-family='"Liberation Serif", "Times New Roman", serif' font-size="18.8" font-weight="normal" text-anchor="start" fill="#000" stroke="#000" stroke-width="0.35" >19</text>
<polygon points="254.05,406.40 260.35,418.80 247.75,418.80" fill="#000" stroke="#000" stroke-width="0.6" stroke-linejoin="round"/>
<polygon points="254.05,410.93 257.01,416.75 251.09,416.75" fill="#fff"/>
<circle cx="253.80" cy="440.80" r="5.0" fill="#fff" stroke="#000" stroke-width="2.6"/>
<rect x="246.50" y="462.70" width="15.8" height="15.2" rx="0.8" fill="#000"/>
<polygon points="253.80,493.10 258.50,497.80 253.80,502.50 249.10,497.80" fill="#fff" stroke="#000" stroke-width="2.4" stroke-linejoin="miter"/>
<text x="268.40" y="403.60" font-family='"Liberation Serif", "Times New Roman", serif' font-size="18.6" font-weight="normal" text-anchor="start" fill="#000" stroke="#000" stroke-width="0.35" >20</text>
<polygon points="437.60,434.50 443.90,446.70 431.30,446.70" fill="#000" stroke="#000" stroke-width="0.6" stroke-linejoin="round"/>
<polygon points="437.60,438.97 440.53,444.65 434.67,444.65" fill="#fff"/>
<circle cx="437.60" cy="455.70" r="5.0" fill="#fff" stroke="#000" stroke-width="2.6"/>
<rect x="430.40" y="462.75" width="15.6" height="15.3" rx="0.8" fill="#000"/>
<polygon points="437.60,467.20 440.50,470.10 437.60,473.00 434.70,470.10" fill="#fff"/>
<text x="440.50" y="425.80" font-family='"Liberation Serif", "Times New Roman", serif' font-size="18.6" font-weight="normal" text-anchor="start" fill="#000" stroke="#000" stroke-width="0.35" >19</text>
<rect x="579.05" y="391.45" width="15.7" height="14.9" rx="0.8" fill="#000"/>
<circle cx="586.40" cy="413.40" r="5.0" fill="#fff" stroke="#000" stroke-width="2.6"/>
<polygon points="586.20,435.00 592.10,446.60 580.30,446.60" fill="#000" stroke="#000" stroke-width="0.6" stroke-linejoin="round"/>
<polygon points="586.20,439.52 588.76,444.55 583.64,444.55" fill="#fff"/>
<polygon points="586.10,465.10 590.60,469.60 586.10,474.10 581.60,469.60" fill="#fff" stroke="#000" stroke-width="2.3" stroke-linejoin="miter"/>
<text x="595.80" y="385.90" font-family='"Liberation Serif", "Times New Roman", serif' font-size="18.6" font-weight="normal" text-anchor="start" fill="#000" stroke="#000" stroke-width="0.35" >29</text>
<rect x="653.2" y="293.7" width="107.10" height="40.60" fill="#fff" stroke="#000" stroke-width="2.3"/>
<text x="707.30" y="321.00" font-family='"Liberation Serif", "Times New Roman", serif' font-size="20.6" font-weight="normal" text-anchor="middle" fill="#000" stroke="#000" stroke-width="0.35" >Ralph</text>
<polyline points="98.70,822.40 194.00,822.40 196.20,800.98 272.70,800.98 274.70,758.12 446.40,758.12 448.50,736.70 451.80,736.70 453.60,715.27 463.50,715.27 465.70,693.85 622.00,693.85" fill="none" stroke="#000" stroke-width="5.0" stroke-linejoin="round" stroke-linecap="round"/>
<line x1="98.70" y1="822.40" x2="194.00" y2="822.40" stroke="#000" stroke-width="8.2" stroke-linecap="round"/>
<line x1="196.20" y1="800.98" x2="272.70" y2="800.98" stroke="#000" stroke-width="8.2" stroke-linecap="round"/>
<line x1="274.70" y1="758.12" x2="446.40" y2="758.12" stroke="#000" stroke-width="8.2" stroke-linecap="round"/>
<line x1="448.50" y1="736.70" x2="451.80" y2="736.70" stroke="#000" stroke-width="8.2" stroke-linecap="round"/>
<line x1="453.60" y1="715.27" x2="463.50" y2="715.27" stroke="#000" stroke-width="8.2" stroke-linecap="round"/>
<line x1="465.70" y1="693.85" x2="622.00" y2="693.85" stroke="#000" stroke-width="8.2" stroke-linecap="round"/>
<circle cx="98.70" cy="822.40" r="4.1" fill="#000"/>
<circle cx="194.00" cy="822.40" r="4.1" fill="#000"/>
<circle cx="196.20" cy="800.98" r="4.1" fill="#000"/>
<circle cx="272.70" cy="800.98" r="4.1" fill="#000"/>
<circle cx="274.70" cy="758.12" r="4.1" fill="#000"/>
<circle cx="446.40" cy="758.12" r="4.1" fill="#000"/>
<circle cx="448.50" cy="736.70" r="4.1" fill="#000"/>
<circle cx="451.80" cy="736.70" r="4.1" fill="#000"/>
<circle cx="453.60" cy="715.27" r="4.1" fill="#000"/>
<circle cx="463.50" cy="715.27" r="4.1" fill="#000"/>
<circle cx="465.70" cy="693.85" r="4.1" fill="#000"/>
<circle cx="622.00" cy="693.85" r="4.1" fill="#000"/>
<line x1="96.90" y1="649.65" x2="96.90" y2="823.15" stroke="#000" stroke-width="2.1" />
<line x1="652.50" y1="649.65" x2="652.50" y2="823.15" stroke="#000" stroke-width="2.1" />
<line x1="90.20" y1="822.10" x2="660.70" y2="822.10" stroke="#000" stroke-width="2.1" />
<line x1="90.20" y1="822.10" x2="96.90" y2="822.10" stroke="#000" stroke-width="2.1" />
<text transform="translate(74.20,830.10) scale(1,1.06)" font-family='"Liberation Serif", "Times New Roman", serif' font-size="24" text-anchor="end" fill="#000" stroke="#000" stroke-width="0.45">0</text>
<line x1="92.10" y1="813.53" x2="96.90" y2="813.53" stroke="#000" stroke-width="2.1" />
<line x1="92.10" y1="804.96" x2="96.90" y2="804.96" stroke="#000" stroke-width="2.1" />
<line x1="92.10" y1="796.39" x2="96.90" y2="796.39" stroke="#000" stroke-width="2.1" />
<line x1="92.10" y1="787.82" x2="96.90" y2="787.82" stroke="#000" stroke-width="2.1" />
<line x1="90.20" y1="779.25" x2="96.90" y2="779.25" stroke="#000" stroke-width="2.1" />
<text transform="translate(74.20,787.25) scale(1,1.06)" font-family='"Liberation Serif", "Times New Roman", serif' font-size="24" text-anchor="end" fill="#000" stroke="#000" stroke-width="0.45">2</text>
<line x1="92.10" y1="770.68" x2="96.90" y2="770.68" stroke="#000" stroke-width="2.1" />
<line x1="92.10" y1="762.11" x2="96.90" y2="762.11" stroke="#000" stroke-width="2.1" />
<line x1="92.10" y1="753.54" x2="96.90" y2="753.54" stroke="#000" stroke-width="2.1" />
<line x1="92.10" y1="744.97" x2="96.90" y2="744.97" stroke="#000" stroke-width="2.1" />
<line x1="90.20" y1="736.40" x2="96.90" y2="736.40" stroke="#000" stroke-width="2.1" />
<text transform="translate(74.20,744.40) scale(1,1.06)" font-family='"Liberation Serif", "Times New Roman", serif' font-size="24" text-anchor="end" fill="#000" stroke="#000" stroke-width="0.45">4</text>
<line x1="92.10" y1="727.83" x2="96.90" y2="727.83" stroke="#000" stroke-width="2.1" />
<line x1="92.10" y1="719.26" x2="96.90" y2="719.26" stroke="#000" stroke-width="2.1" />
<line x1="92.10" y1="710.69" x2="96.90" y2="710.69" stroke="#000" stroke-width="2.1" />
<line x1="92.10" y1="702.12" x2="96.90" y2="702.12" stroke="#000" stroke-width="2.1" />
<line x1="90.20" y1="693.55" x2="96.90" y2="693.55" stroke="#000" stroke-width="2.1" />
<text transform="translate(74.20,701.55) scale(1,1.06)" font-family='"Liberation Serif", "Times New Roman", serif' font-size="24" text-anchor="end" fill="#000" stroke="#000" stroke-width="0.45">6</text>
<line x1="92.10" y1="684.98" x2="96.90" y2="684.98" stroke="#000" stroke-width="2.1" />
<line x1="92.10" y1="676.41" x2="96.90" y2="676.41" stroke="#000" stroke-width="2.1" />
<line x1="92.10" y1="667.84" x2="96.90" y2="667.84" stroke="#000" stroke-width="2.1" />
<line x1="92.10" y1="659.27" x2="96.90" y2="659.27" stroke="#000" stroke-width="2.1" />
<line x1="90.20" y1="650.70" x2="96.90" y2="650.70" stroke="#000" stroke-width="2.1" />
<text transform="translate(74.20,658.70) scale(1,1.06)" font-family='"Liberation Serif", "Times New Roman", serif' font-size="24" text-anchor="end" fill="#000" stroke="#000" stroke-width="0.45">8</text>
<line x1="652.50" y1="822.10" x2="660.70" y2="822.10" stroke="#000" stroke-width="2.1" />
<text transform="translate(674.70,829.60) scale(1,1.06)" font-family='"Liberation Serif", "Times New Roman", serif' font-size="24" text-anchor="start" fill="#000" stroke="#000" stroke-width="0.45">0</text>
<line x1="652.50" y1="807.82" x2="658.50" y2="807.82" stroke="#000" stroke-width="2.1" />
<line x1="652.50" y1="793.53" x2="660.70" y2="793.53" stroke="#000" stroke-width="2.1" />
<text transform="translate(674.70,801.03) scale(1,1.06)" font-family='"Liberation Serif", "Times New Roman", serif' font-size="24" text-anchor="start" fill="#000" stroke="#000" stroke-width="0.45">2</text>
<line x1="652.50" y1="779.25" x2="658.50" y2="779.25" stroke="#000" stroke-width="2.1" />
<line x1="652.50" y1="764.97" x2="660.70" y2="764.97" stroke="#000" stroke-width="2.1" />
<text transform="translate(674.70,772.47) scale(1,1.06)" font-family='"Liberation Serif", "Times New Roman", serif' font-size="24" text-anchor="start" fill="#000" stroke="#000" stroke-width="0.45">4</text>
<line x1="652.50" y1="750.68" x2="658.50" y2="750.68" stroke="#000" stroke-width="2.1" />
<line x1="652.50" y1="736.40" x2="660.70" y2="736.40" stroke="#000" stroke-width="2.1" />
<text transform="translate(674.70,743.90) scale(1,1.06)" font-family='"Liberation Serif", "Times New Roman", serif' font-size="24" text-anchor="start" fill="#000" stroke="#000" stroke-width="0.45">6</text>
<line x1="652.50" y1="722.12" x2="658.50" y2="722.12" stroke="#000" stroke-width="2.1" />
<line x1="652.50" y1="707.83" x2="660.70" y2="707.83" stroke="#000" stroke-width="2.1" />
<text transform="translate(674.70,715.33) scale(1,1.06)" font-family='"Liberation Serif", "Times New Roman", serif' font-size="24" text-anchor="start" fill="#000" stroke="#000" stroke-width="0.45">8</text>
<line x1="652.50" y1="693.55" x2="658.50" y2="693.55" stroke="#000" stroke-width="2.1" />
<line x1="652.50" y1="679.27" x2="660.70" y2="679.27" stroke="#000" stroke-width="2.1" />
<text transform="translate(674.70,686.77) scale(1,1.06)" font-family='"Liberation Serif", "Times New Roman", serif' font-size="24" text-anchor="start" fill="#000" stroke="#000" stroke-width="0.45">10</text>
<line x1="652.50" y1="664.98" x2="658.50" y2="664.98" stroke="#000" stroke-width="2.1" />
<line x1="652.50" y1="650.70" x2="660.70" y2="650.70" stroke="#000" stroke-width="2.1" />
<text transform="translate(674.70,658.20) scale(1,1.06)" font-family='"Liberation Serif", "Times New Roman", serif' font-size="24" text-anchor="start" fill="#000" stroke="#000" stroke-width="0.45">12</text>
<line x1="96.50" y1="822.10" x2="96.50" y2="826.70" stroke="#000" stroke-width="2.3000000000000003" />
<line x1="123.45" y1="822.10" x2="123.45" y2="826.70" stroke="#000" stroke-width="2.3000000000000003" />
<line x1="150.40" y1="822.10" x2="150.40" y2="826.70" stroke="#000" stroke-width="2.3000000000000003" />
<line x1="177.35" y1="822.10" x2="177.35" y2="826.70" stroke="#000" stroke-width="2.3000000000000003" />
<line x1="204.30" y1="822.10" x2="204.30" y2="826.70" stroke="#000" stroke-width="2.3000000000000003" />
<line x1="231.25" y1="822.10" x2="231.25" y2="826.70" stroke="#000" stroke-width="2.3000000000000003" />
<line x1="258.20" y1="822.10" x2="258.20" y2="826.70" stroke="#000" stroke-width="2.3000000000000003" />
<line x1="285.15" y1="822.10" x2="285.15" y2="826.70" stroke="#000" stroke-width="2.3000000000000003" />
<line x1="312.10" y1="822.10" x2="312.10" y2="826.70" stroke="#000" stroke-width="2.3000000000000003" />
<line x1="339.05" y1="822.10" x2="339.05" y2="826.70" stroke="#000" stroke-width="2.3000000000000003" />
<line x1="366.00" y1="822.10" x2="366.00" y2="826.70" stroke="#000" stroke-width="2.3000000000000003" />
<line x1="392.95" y1="822.10" x2="392.95" y2="826.70" stroke="#000" stroke-width="2.3000000000000003" />
<line x1="419.90" y1="822.10" x2="419.90" y2="826.70" stroke="#000" stroke-width="2.3000000000000003" />
<line x1="446.85" y1="822.10" x2="446.85" y2="826.70" stroke="#000" stroke-width="2.3000000000000003" />
<line x1="473.80" y1="822.10" x2="473.80" y2="826.70" stroke="#000" stroke-width="2.3000000000000003" />
<line x1="500.75" y1="822.10" x2="500.75" y2="826.70" stroke="#000" stroke-width="2.3000000000000003" />
<line x1="527.70" y1="822.10" x2="527.70" y2="826.70" stroke="#000" stroke-width="2.3000000000000003" />
<line x1="554.65" y1="822.10" x2="554.65" y2="826.70" stroke="#000" stroke-width="2.3000000000000003" />
<line x1="581.60" y1="822.10" x2="581.60" y2="826.70" stroke="#000" stroke-width="2.3000000000000003" />
<line x1="608.55" y1="822.10" x2="608.55" y2="826.70" stroke="#000" stroke-width="2.3000000000000003" />
<line x1="635.50" y1="822.10" x2="635.50" y2="826.70" stroke="#000" stroke-width="2.3000000000000003" />
<clipPath id="gclip"><rect x="95.7" y="640" width="600" height="200"/></clipPath><g clip-path="url(#gclip)">
<circle cx="99.70" cy="778.70" r="5.0" fill="#fff" stroke="#000" stroke-width="2.6"/>
<polygon points="99.70,786.80 105.90,798.90 93.50,798.90" fill="#000" stroke="#000" stroke-width="0.6" stroke-linejoin="round"/>
<polygon points="99.70,791.30 102.55,796.85 96.85,796.85" fill="#fff"/>
<rect x="93.60" y="801.60" width="12.2" height="11.8" rx="0.8" fill="#000"/>
<polygon points="100.10,804.50 103.10,807.50 100.10,810.50 97.10,807.50" fill="#fff"/>
</g>
<text x="110.20" y="768.80" font-family='"Liberation Serif", "Times New Roman", serif' font-size="17.2" font-weight="normal" text-anchor="start" fill="#000" stroke="#000" stroke-width="0.35" >7</text>
<circle cx="244.90" cy="765.40" r="5.0" fill="#fff" stroke="#000" stroke-width="2.6"/>
<polygon points="244.90,773.50 251.10,785.30 238.70,785.30" fill="#000" stroke="#000" stroke-width="0.6" stroke-linejoin="round"/>
<polygon points="244.90,777.91 247.71,783.25 242.09,783.25" fill="#fff"/>
<rect x="238.80" y="816.30" width="12.2" height="12.2" rx="0.8" fill="#000"/>
<polygon points="244.90,819.30 248.00,822.40 244.90,825.50 241.80,822.40" fill="#fff"/>
<text x="251.60" y="756.10" font-family='"Liberation Serif", "Times New Roman", serif' font-size="17.2" font-weight="normal" text-anchor="start" fill="#000" stroke="#000" stroke-width="0.35" >7</text>
<circle cx="394.40" cy="765.40" r="5.0" fill="#fff" stroke="#000" stroke-width="2.6"/>
<polygon points="394.40,787.50 400.40,797.90 388.40,797.90" fill="#000" stroke="#000" stroke-width="0.6" stroke-linejoin="round"/>
<polygon points="394.40,791.60 396.85,795.85 391.95,795.85" fill="#fff"/>
<polygon points="394.40,803.00 399.10,807.70 394.40,812.40 389.70,807.70" fill="#fff" stroke="#000" stroke-width="2.4" stroke-linejoin="miter"/>
<rect x="389.60" y="817.70" width="9.6" height="9.6" fill="#fff" stroke="#000" stroke-width="2.4"/>
<text x="403.00" y="744.70" font-family='"Liberation Serif", "Times New Roman", serif' font-size="17.2" font-weight="normal" text-anchor="start" fill="#000" stroke="#000" stroke-width="0.35" >7</text>
<circle cx="584.30" cy="751.20" r="5.0" fill="#fff" stroke="#000" stroke-width="2.6"/>
<polygon points="584.30,787.30 590.60,799.80 578.00,799.80" fill="#000" stroke="#000" stroke-width="0.6" stroke-linejoin="round"/>
<polygon points="584.30,791.85 587.27,797.75 581.33,797.75" fill="#fff"/>
<rect x="578.20" y="816.40" width="12.2" height="12.2" rx="0.8" fill="#000"/>
<polygon points="584.30,819.40 587.40,822.50 584.30,825.60 581.20,822.50" fill="#fff"/>
<text x="595.60" y="750.20" font-family='"Liberation Serif", "Times New Roman", serif' font-size="17.2" font-weight="normal" text-anchor="start" fill="#000" stroke="#000" stroke-width="0.35" >7</text>
<rect x="650.5" y="587.2" width="107.90" height="40.10" fill="#fff" stroke="#000" stroke-width="2.3"/>
<text x="704.00" y="613.80" font-family='"Liberation Serif", "Times New Roman", serif' font-size="20.6" font-weight="normal" text-anchor="middle" fill="#000" stroke="#000" stroke-width="0.35" >Gary</text>
<line x1="648.3" y1="585.9" x2="648.3" y2="822.0" stroke="#0a0a0a" stroke-width="1.5" stroke-dasharray="4.4 2.6"/>
<text transform="translate(91.90,833.2) rotate(90) scale(1,1.05)" font-family='"Liberation Sans", Arial, sans-serif' font-size="14.8" font-style="italic" fill="#000" stroke="#000" stroke-width="0.12">9/1/2015</text>
<text transform="translate(118.85,833.2) rotate(90) scale(1,1.05)" font-family='"Liberation Sans", Arial, sans-serif' font-size="14.8" font-style="italic" fill="#000" stroke="#000" stroke-width="0.12">9/15/2015</text>
<text transform="translate(145.80,833.2) rotate(90) scale(1,1.05)" font-family='"Liberation Sans", Arial, sans-serif' font-size="14.8" font-style="italic" fill="#000" stroke="#000" stroke-width="0.12">9/29/2015</text>
<text transform="translate(172.75,833.2) rotate(90) scale(1,1.05)" font-family='"Liberation Sans", Arial, sans-serif' font-size="14.8" font-style="italic" fill="#000" stroke="#000" stroke-width="0.12">10/13/2015</text>
<text transform="translate(199.70,833.2) rotate(90) scale(1,1.05)" font-family='"Liberation Sans", Arial, sans-serif' font-size="14.8" font-style="italic" fill="#000" stroke="#000" stroke-width="0.12">10/27/2015</text>
<text transform="translate(226.65,833.2) rotate(90) scale(1,1.05)" font-family='"Liberation Sans", Arial, sans-serif' font-size="14.8" font-style="italic" fill="#000" stroke="#000" stroke-width="0.12">11/10/2015</text>
<text transform="translate(253.60,833.2) rotate(90) scale(1,1.05)" font-family='"Liberation Sans", Arial, sans-serif' font-size="14.8" font-style="italic" fill="#000" stroke="#000" stroke-width="0.12">11/24/2015</text>
<text transform="translate(280.55,833.2) rotate(90) scale(1,1.05)" font-family='"Liberation Sans", Arial, sans-serif' font-size="14.8" font-style="italic" fill="#000" stroke="#000" stroke-width="0.12">12/8/2015</text>
<text transform="translate(307.50,833.2) rotate(90) scale(1,1.05)" font-family='"Liberation Sans", Arial, sans-serif' font-size="14.8" font-style="italic" fill="#000" stroke="#000" stroke-width="0.12">12/22/2015</text>
<text transform="translate(334.45,833.2) rotate(90) scale(1,1.05)" font-family='"Liberation Sans", Arial, sans-serif' font-size="14.8" font-style="italic" fill="#000" stroke="#000" stroke-width="0.12">1/5/2016</text>
<text transform="translate(361.40,833.2) rotate(90) scale(1,1.05)" font-family='"Liberation Sans", Arial, sans-serif' font-size="14.8" font-style="italic" fill="#000" stroke="#000" stroke-width="0.12">1/19/2016</text>
<text transform="translate(388.35,833.2) rotate(90) scale(1,1.05)" font-family='"Liberation Sans", Arial, sans-serif' font-size="14.8" font-style="italic" fill="#000" stroke="#000" stroke-width="0.12">2/2/2016</text>
<text transform="translate(415.30,833.2) rotate(90) scale(1,1.05)" font-family='"Liberation Sans", Arial, sans-serif' font-size="14.8" font-style="italic" fill="#000" stroke="#000" stroke-width="0.12">2/16/2016</text>
<text transform="translate(442.25,833.2) rotate(90) scale(1,1.05)" font-family='"Liberation Sans", Arial, sans-serif' font-size="14.8" font-style="italic" fill="#000" stroke="#000" stroke-width="0.12">3/1/2016</text>
<text transform="translate(469.20,833.2) rotate(90) scale(1,1.05)" font-family='"Liberation Sans", Arial, sans-serif' font-size="14.8" font-style="italic" fill="#000" stroke="#000" stroke-width="0.12">3/15/2016</text>
<text transform="translate(496.15,833.2) rotate(90) scale(1,1.05)" font-family='"Liberation Sans", Arial, sans-serif' font-size="14.8" font-style="italic" fill="#000" stroke="#000" stroke-width="0.12">3/29/2016</text>
<text transform="translate(523.10,833.2) rotate(90) scale(1,1.05)" font-family='"Liberation Sans", Arial, sans-serif' font-size="14.8" font-style="italic" fill="#000" stroke="#000" stroke-width="0.12">4/12/2016</text>
<text transform="translate(550.05,833.2) rotate(90) scale(1,1.05)" font-family='"Liberation Sans", Arial, sans-serif' font-size="14.8" font-style="italic" fill="#000" stroke="#000" stroke-width="0.12">4/26/2016</text>
<text transform="translate(577.00,833.2) rotate(90) scale(1,1.05)" font-family='"Liberation Sans", Arial, sans-serif' font-size="14.8" font-style="italic" fill="#000" stroke="#000" stroke-width="0.12">5/10/2016</text>
<text transform="translate(603.95,833.2) rotate(90) scale(1,1.05)" font-family='"Liberation Sans", Arial, sans-serif' font-size="14.8" font-style="italic" fill="#000" stroke="#000" stroke-width="0.12">5/24/2016</text>
<text transform="translate(630.90,833.2) rotate(90) scale(1,1.05)" font-family='"Liberation Sans", Arial, sans-serif' font-size="14.8" font-style="italic" fill="#000" stroke="#000" stroke-width="0.12">6/7/2016</text>
</svg>
</body>
</html>
